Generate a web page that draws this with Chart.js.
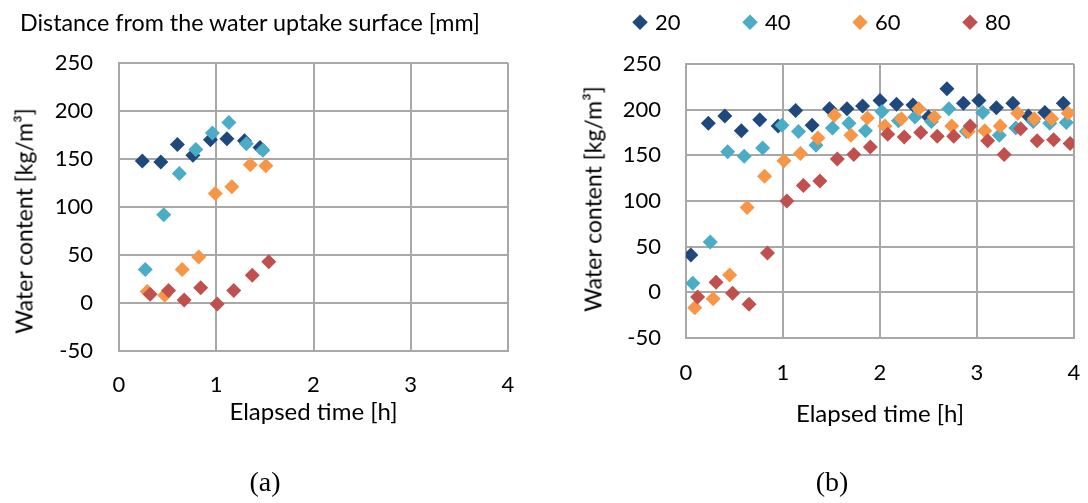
<!DOCTYPE html>
<html>
<head>
<meta charset="utf-8">
<script src="https://cdn.jsdelivr.net/npm/chart.js@4.4.1/dist/chart.umd.min.js"></script>
<style>
  html, body { margin: 0; padding: 0; background: #fff; }
  #page { position: relative; width: 1088px; height: 503px; overflow: hidden;
          font-family: Lato, "Open Sans", sans-serif; color: #000; }
  canvas { position: absolute; top: 0; }
  .lbl { position: absolute; white-space: nowrap; line-height: 1; }
  .ytitle { font-size: 23px; transform: translate(-50%, -50%) rotate(-90deg); }
  .panel { font-family: "Liberation Serif", "DejaVu Serif", serif; font-size: 28px;
           transform: translate(-50%, -50%); }
  #legend { position: absolute; left: 0; top: 0; }
  .item { position: absolute; font-size: 22px; line-height: 1; }
  .diamond { position: absolute; width: 10.6px; height: 10.6px; transform: translate(-50%, -50%) rotate(45deg); }
</style>
</head>
<body>
<div id="page">
  <canvas id="chartA" width="544" height="503" style="left:0"></canvas>
  <canvas id="chartB" width="560" height="503" style="left:544px"></canvas>
  <div class="lbl" id="legendTitle" style="left:20px; top:11px; font-size:23.3px;">Distance from the water uptake surface [mm]</div>
  <div id="legend"></div>
  <div class="lbl ytitle" style="left:24px; top:221px;">Water content [kg/m³]</div>
  <div class="lbl ytitle" style="left:593px; top:199px;">Water content [kg/m³]</div>
  <div class="lbl panel" style="left:265px; top:482px;">(a)</div>
  <div class="lbl panel" style="left:832px; top:482px;">(b)</div>
</div>
<script>
// Series: distance from the water uptake surface [mm]
const seriesNames  = ['20', '40', '60', '80'];
const seriesColors = ['#1F497D', '#4BACC6', '#F79646', '#C0504D'];

// Axis ranges
const timeMin = 0, timeMax = 4, timeStep = 1;
const waterMin = -50, waterMax = 250, waterStep = 50;

// (a) elapsed time [h] and water content [kg/m3]
const hoursA20 = [0.24, 0.43, 0.60, 0.76, 0.94, 1.11, 1.29, 1.45];
const waterA20 = [148, 147, 165, 154, 170, 171, 169, 162];
const hoursA40 = [0.27, 0.46, 0.62, 0.79, 0.96, 1.13, 1.31, 1.48];
const waterA40 = [35, 92, 135, 160, 177, 188, 166, 159];
const hoursA60 = [0.29, 0.47, 0.65, 0.82, 0.99, 1.16, 1.35, 1.51];
const waterA60 = [12, 8, 35, 48, 114, 121, 144, 143];
const hoursA80 = [0.32, 0.51, 0.67, 0.84, 1.01, 1.18, 1.37, 1.54];
const waterA80 = [9, 13, 3, 16, -1, 13, 29, 43];

// (b) elapsed time [h] and water content [kg/m3]
const hoursB20 = [0.05, 0.23, 0.40, 0.57, 0.76, 0.95, 1.13, 1.30, 1.48, 1.66, 1.82, 2.00,
                  2.17, 2.34, 2.50, 2.69, 2.86, 3.02, 3.20, 3.37, 3.53, 3.70, 3.89];
const waterB20 = [41, 185, 193, 177, 189, 182, 199, 183, 201, 201, 204, 210,
                  206, 205, 192, 223, 207, 210, 202, 207, 193, 197, 207];
const hoursB40 = [0.07, 0.25, 0.43, 0.60, 0.79, 0.99, 1.16, 1.34, 1.51, 1.68, 1.85, 2.02,
                  2.19, 2.36, 2.53, 2.71, 2.89, 3.06, 3.23, 3.40, 3.58, 3.75, 3.92];
const waterB40 = [10, 55, 154, 149, 158, 183, 176, 161, 180, 185, 177, 198,
                  188, 192, 187, 201, 176, 197, 172, 180, 187, 185, 186];
const hoursB60 = [0.09, 0.28, 0.45, 0.63, 0.81, 1.01, 1.18, 1.36, 1.53, 1.70, 1.87, 2.05,
                  2.22, 2.40, 2.56, 2.74, 2.91, 3.08, 3.24, 3.42, 3.59, 3.77, 3.94];
const waterB60 = [-17, -7, 19, 93, 127, 144, 152, 169, 194, 172, 191, 182,
                  190, 201, 192, 182, 176, 177, 182, 196, 190, 190, 196];
const hoursB80 = [0.12, 0.31, 0.48, 0.65, 0.84, 1.04, 1.21, 1.38, 1.56, 1.73, 1.90, 2.08,
                  2.25, 2.42, 2.59, 2.76, 2.93, 3.11, 3.28, 3.45, 3.62, 3.79, 3.96];
const waterB80 = [-5, 11, -1, -13, 43, 100, 117, 122, 146, 151, 159, 173,
                  170, 175, 171, 171, 182, 166, 151, 179, 166, 167, 163];

const FONT = 'Lato, "Open Sans", sans-serif';
const GRID = '#a8a8a8';

function pairs(xs, ys) { return xs.map((x, i) => ({ x: x, y: ys[i] })); }

function buildDatasets(hours, water) {
  return seriesNames.map((name, i) => ({
    label: name,
    data: pairs(hours[i], water[i]),
    backgroundColor: seriesColors[i],
    borderColor: seriesColors[i],
    borderWidth: 0,
    pointStyle: 'rectRot',
    pointRadius: 7.5,
    pointHoverRadius: 7.5,
    showLine: false,
    order: seriesNames.length - i   // deeper layers drawn on top
  }));
}

function makeChart(id, datasets, g) {
  return new Chart(document.getElementById(id), {
    type: 'scatter',
    data: { datasets: datasets },
    options: {
      responsive: false,
      animation: false,
      devicePixelRatio: 1,
      layout: { padding: { left: 0, right: g.right, top: g.top, bottom: 0 } },
      plugins: { legend: { display: false }, tooltip: { enabled: false } },
      scales: {
        x: {
          type: 'linear', min: timeMin, max: timeMax,
          ticks: { stepSize: timeStep, padding: g.xTickPad, color: '#000',
                   font: { family: FONT, size: 22 } },
          grid: { color: GRID, lineWidth: 2, drawTicks: false },
          border: { color: GRID, width: 2 },
          title: { display: true, text: 'Elapsed time [h]', color: '#000',
                   font: { family: FONT, size: 24 }, padding: { top: 0, bottom: g.xTitlePad } },
          afterFit: s => { s.height = g.xHeight; }
        },
        y: {
          type: 'linear', min: waterMin, max: waterMax,
          ticks: { stepSize: waterStep, padding: g.yTickPad, color: '#000',
                   font: { family: FONT, size: 22 } },
          grid: { color: GRID, lineWidth: 2, drawTicks: false },
          border: { color: GRID, width: 2 },
          afterFit: s => { s.width = g.yWidth; }
        }
      }
    }
  });
}

makeChart('chartA',
  buildDatasets([hoursA20, hoursA40, hoursA60, hoursA80], [waterA20, waterA40, waterA60, waterA80]),
  { right: 36, top: 63, xHeight: 152, yWidth: 119, xTickPad: 21, yTickPad: 26, xTitlePad: 76 });

makeChart('chartB',
  buildDatasets([hoursB20, hoursB40, hoursB60, hoursB80], [waterB20, waterB40, waterB60, waterB80]),
  { right: 30, top: 64, xHeight: 165, yWidth: 142, xTickPad: 22, yTickPad: 25, xTitlePad: 74 });

// Legend for the distance series
const legend = document.getElementById('legend');
const legendX = [640, 750, 860, 970], legendY = 22;
seriesNames.forEach((name, i) => {
  const d = document.createElement('div');
  d.className = 'diamond';
  d.style.left = legendX[i] + 'px';
  d.style.top = legendY + 'px';
  d.style.background = seriesColors[i];
  legend.appendChild(d);
  const t = document.createElement('div');
  t.className = 'item';
  t.textContent = name;
  t.style.left = (legendX[i] + 15) + 'px';
  t.style.top = (legendY - 11) + 'px';
  legend.appendChild(t);
});
</script>
</body>
</html>
